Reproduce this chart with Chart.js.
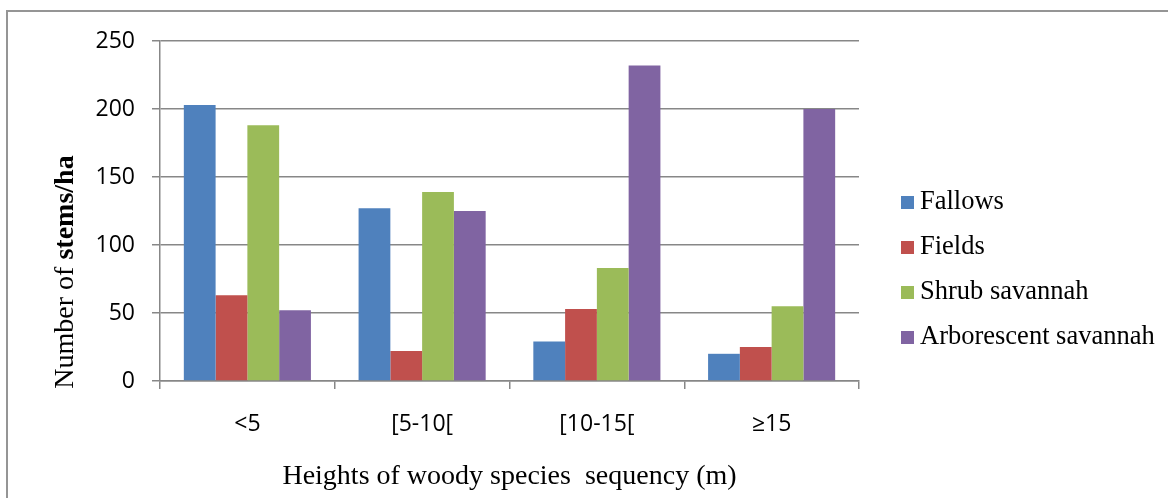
<!DOCTYPE html>
<html>
<head>
<meta charset="utf-8">
<script src="https://cdn.jsdelivr.net/npm/chart.js@4"></script>
<style>
  html, body { margin: 0; padding: 0; background: #fff; overflow: hidden; }
  #wrap { position: relative; width: 1168px; height: 498px; }
  #frame { position: absolute; left: 6px; top: 10px; width: 1300px; height: 600px;
           border-top: 2px solid #959595; border-left: 2px solid #959595; }
  #legend { position: absolute; left: 901px; top: 178px; font-family: "Liberation Serif", serif;
            font-size: 26.5px; color: #000; }
  .item { height: 45px; line-height: 45px; white-space: nowrap; }
  .box { display: inline-block; width: 13px; height: 13px; margin-right: 6px; }
</style>
</head>
<body>
<div id="wrap">
  <div id="frame"></div>
  <canvas id="chart" width="1168" height="498"></canvas>
  <div id="legend"></div>
</div>
<script>
// categories (height classes, m)
var heightClasses = ['<5', '[5-10[', '[10-15[', '≥15'];

// number of stems/ha per land-use type
var fallows = [203, 127, 29, 20];
var fields = [63, 22, 53, 25];
var shrubSavannah = [188, 139, 83, 55];
var arborescentSavannah = [52, 125, 232, 200];

var seriesNames = ['Fallows', 'Fields', 'Shrub savannah', 'Arborescent savannah'];
var seriesColors = ['#4F81BD', '#C0504D', '#9BBB59', '#8064A2'];

// y axis ticks
var yMin = 0;
var yMax = 250;
var yStep = 50;

var seriesValues = [fallows, fields, shrubSavannah, arborescentSavannah];

var datasets = [];
for (let i = 0; i < seriesNames.length; i++) {
    datasets.push({
        label: seriesNames[i],
        data: seriesValues[i],
        backgroundColor: seriesColors[i],
        borderWidth: 0,
        categoryPercentage: 4 / 5.5,
        barPercentage: 1
    });
}

// html legend
var legendDiv = document.getElementById('legend');
for (let i = 0; i < seriesNames.length; i++) {
    let row = document.createElement('div');
    row.className = 'item';
    row.innerHTML = '<span class="box" style="background:' + seriesColors[i] + '"></span>' + seriesNames[i];
    legendDiv.appendChild(row);
}

var gridColor = '#878787';

// y title, "stems/ha" is bold in the original
const yTitlePlugin = {
    id: 'yTitle',
    afterDraw(chart) {
        const ctx = chart.ctx;
        const part1 = 'Number of ';
        const part2 = 'stems/ha';
        ctx.save();
        ctx.translate(66, 272);
        ctx.rotate(-Math.PI / 2);
        ctx.fillStyle = '#000';
        ctx.textBaseline = 'middle';
        ctx.font = '28px "Liberation Serif"';
        const w1 = ctx.measureText(part1).width;
        ctx.font = 'bold 28px "Liberation Serif"';
        const w2 = ctx.measureText(part2).width;
        let x = -(w1 + w2) / 2;
        ctx.font = '28px "Liberation Serif"';
        ctx.fillText(part1, x, 0);
        ctx.font = 'bold 28px "Liberation Serif"';
        ctx.fillText(part2, x + w1, 0);
        ctx.restore();
    }
};

new Chart(document.getElementById('chart'), {
    type: 'bar',
    data: {
        labels: heightClasses,
        datasets: datasets
    },
    options: {
        responsive: false,
        animation: false,
        layout: {
            padding: { left: 85, right: 309, top: 41, bottom: 0 }
        },
        plugins: {
            legend: { display: false },
            tooltip: { enabled: false }
        },
        scales: {
            x: {
                grid: { drawOnChartArea: false, tickLength: 8, color: gridColor, lineWidth: 1.5 },
                border: { color: gridColor, width: 1.5 },
                ticks: { color: '#000', padding: 22, font: { family: 'Open Sans', size: 23 } },
                title: {
                    display: true,
                    text: 'Heights of woody species  sequency (m)',
                    color: '#000',
                    font: { family: 'Liberation Serif', size: 28 },
                    padding: { top: 0, bottom: 5 }
                },
                afterFit(scale) { scale.height = 117; }
            },
            y: {
                min: yMin,
                max: yMax,
                grid: { tickLength: 8, color: gridColor, lineWidth: 1.5 },
                border: { color: gridColor, width: 1.5 },
                ticks: { stepSize: yStep, color: '#000', padding: 17, font: { family: 'Open Sans', size: 23 } },
                afterFit(scale) { scale.width = 75; }
            }
        }
    },
    plugins: [yTitlePlugin]
});
</script>
</body>
</html>
